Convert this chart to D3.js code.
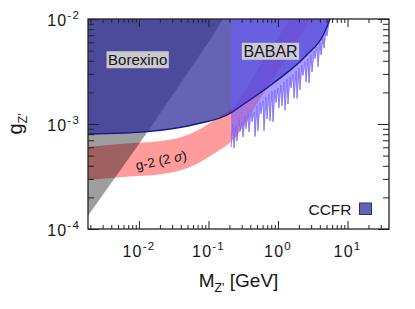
<!DOCTYPE html>
<meta charset="utf-8">
<style>
body { margin: 0; background: #fff; }
text { font-family: "Liberation Sans", Arial, sans-serif; fill: #161616; }
.frame { fill: none; stroke: #222; stroke-width: 1.3px; }
.ticks line { stroke: #222; stroke-width: 1px; }
</style>
<svg width="415" height="309"></svg>
<script src="https://cdn.jsdelivr.net/npm/d3@7"></script>
<script>

var massRange = [0.00185, 39.5],
    couplingRange = [1e-4, 1e-2];

var xLabelPowers = [-2, -1, 0, 1],
    yLabelPowers = [-4, -3, -2];

// CCFR bound (region above is excluded)
var ccfrM = [0.0018, 0.0129, 0.0676, 0.204, 0.284, 0.855, 2.59, 4.49, 5.6, 6.3];
var ccfrG = [7.98e-4, 8.45e-4, 1.0e-3, 1.26e-3, 1.46e-3, 2.44e-3, 4.54e-3, 7.05e-3, 1.0e-2, 1.26e-2];

// Borexino bound (region above-left excluded)
var borexinoM = [0.0018, 0.0139, 0.105, 0.162];
var borexinoG = [1.30e-4, 8.77e-4, 6.31e-3, 1.0e-2];

// g-2 (2 sigma) band
var g2M    = [0.0018, 0.00589, 0.0221, 0.0542, 0.124, 0.240, 0.551, 1.26, 2.7, 3.5];
var g2Low  = [2.93e-4, 3.13e-4, 3.34e-4, 3.89e-4, 5.29e-4, 7.36e-4, 1.73e-3, 4.07e-3, 9.0e-3, 1.2e-2];
var g2High = [6.07e-4, 6.48e-4, 6.91e-4, 8.05e-4, 1.10e-3, 1.52e-3, 3.58e-3, 8.42e-3, 1.86e-2, 2.5e-2];

// BABAR bound (jagged)
var babarM = [0.212, 0.225, 0.233, 0.249, 0.257, 0.275, 0.284, 0.303, 0.314, 0.335, 0.346, 0.370, 0.383, 0.409,
  0.423, 0.452, 0.467, 0.499, 0.515, 0.551, 0.569, 0.608, 0.629, 0.672, 0.695, 0.742, 0.767, 0.820, 0.847, 0.905,
  0.936, 1.00, 1.03, 1.10, 1.14, 1.22, 1.26, 1.35, 1.39, 1.49, 1.54, 1.64, 1.70, 1.82, 1.88, 2.01, 2.07, 2.21,
  2.29, 2.45, 2.53, 2.70, 2.79, 2.98, 3.09, 3.30, 3.41, 3.64, 3.76, 4.02, 4.16, 4.44, 4.59, 4.90, 5.07, 5.42, 5.60];
var babarG = [6.04e-4, 1.00e-3, 5.91e-4, 9.57e-4, 6.89e-4, 1.14e-3, 8.5e-4, 1.05e-3, 7.52e-4, 1.19e-3, 9.0e-4,
  1.22e-3, 8.39e-4, 1.36e-3, 1.05e-3, 1.30e-3, 7.6e-4, 1.48e-3, 8.58e-4, 1.59e-3, 1.25e-3, 1.66e-3, 8.6e-4,
  1.81e-3, 1.12e-3, 1.93e-3, 1.07e-3, 2.06e-3, 1.05e-3, 2.11e-3, 1.6e-3, 2.20e-3, 1.42e-3, 2.35e-3, 1.48e-3,
  2.51e-3, 1.35e-3, 2.68e-3, 1.55e-3, 2.80e-3, 2.2e-3, 2.99e-3, 1.77e-3, 3.20e-3, 1.75e-3, 3.41e-3, 2.11e-3,
  3.65e-3, 2.9e-3, 3.90e-3, 2.51e-3, 4.16e-3, 2.45e-3, 4.54e-3, 3.13e-3, 4.96e-3, 4.2e-3, 5.41e-3, 3.5e-3,
  5.91e-3, 4.54e-3, 6.59e-3, 5.29e-3, 7.86e-3, 6.89e-3, 9.36e-3, 1.0e-2];

var svg = d3.select("svg"),
    pLeft = 88, pRight = 389, pTop = 19, pBottom = 229;

var x = d3.scaleLog().domain(massRange).range([pLeft, pRight]);
var y = d3.scaleLog().domain(couplingRange).range([pBottom, pTop]);

function pairs(ms, gs) { return ms.map(function(m, i) { return [m, gs[i]]; }); }

svg.append("defs").append("clipPath").attr("id", "plot")
  .append("rect").attr("x", pLeft).attr("y", pTop).attr("width", pRight - pLeft).attr("height", pBottom - pTop);

var plot = svg.append("g").attr("clip-path", "url(#plot)");

// g-2 band
plot.append("path")
    .datum(g2M.map(function(m, i) { return [m, g2Low[i], g2High[i]]; }))
    .attr("fill", "rgb(255,155,155)")
    .attr("d", d3.area()
      .x(function(d) { return x(d[0]); })
      .y0(function(d) { return y(d[1]); })
      .y1(function(d) { return y(d[2]); })
      .curve(d3.curveMonotoneX));

// Borexino
plot.append("path")
    .datum(pairs(borexinoM, borexinoG))
    .attr("fill", "#000")
    .attr("fill-opacity", 0.38)
    .attr("d", d3.area()
      .x(function(d) { return x(d[0]); })
      .y0(function(d) { return y(d[1]); })
      .y1(-20));

// CCFR
var ccfr = pairs(ccfrM, ccfrG);
plot.append("path")
    .datum(ccfr)
    .attr("fill", "rgb(47,46,154)")
    .attr("fill-opacity", 0.74)
    .attr("d", d3.area()
      .x(function(d) { return x(d[0]); })
      .y0(function(d) { return y(d[1]); })
      .y1(-20)
      .curve(d3.curveMonotoneX));

// BABAR
var babar = pairs(babarM, babarG);
plot.append("path")
    .datum(babar)
    .attr("fill", "rgb(110,90,255)")
    .attr("fill-opacity", 0.6)
    .attr("d", d3.area()
      .x(function(d) { return x(d[0]); })
      .y0(function(d) { return y(d[1]); })
      .y1(-20));

plot.append("path")
    .datum(babar)
    .attr("fill", "none")
    .attr("stroke", "rgb(120,100,255)")
    .attr("stroke-width", 0.8)
    .attr("d", d3.line()
      .x(function(d) { return x(d[0]); })
      .y(function(d) { return y(d[1]); }));

// CCFR line
plot.append("path")
    .datum(ccfr)
    .attr("fill", "none")
    .attr("stroke", "#15158a")
    .attr("stroke-width", 1.3)
    .attr("d", d3.line()
      .x(function(d) { return x(d[0]); })
      .y(function(d) { return y(d[1]); })
      .curve(d3.curveMonotoneX));

// ticks (inside, mirrored)
function isMajor(v) { var l = Math.log10(v); return Math.abs(l - Math.round(l)) < 1e-6; }
var xAll = x.ticks(), yAll = y.ticks();
var xMaj = xAll.filter(isMajor), xMin = xAll.filter(function(v) { return !isMajor(v); });
var yMaj = yAll.filter(isMajor), yMin = yAll.filter(function(v) { return !isMajor(v); });

function addTicks(axis, tx, ty) {
  var g = svg.append("g").attr("class", "ticks")
      .attr("transform", "translate(" + tx + "," + ty + ")")
      .call(axis.tickFormat("").tickSizeOuter(0));
  g.select(".domain").remove();
}
addTicks(d3.axisBottom(x).tickValues(xMaj).tickSize(-8), 0, pBottom);
addTicks(d3.axisBottom(x).tickValues(xMin).tickSize(-4), 0, pBottom);
addTicks(d3.axisTop(x).tickValues(xMaj).tickSize(-8), 0, pTop);
addTicks(d3.axisTop(x).tickValues(xMin).tickSize(-4), 0, pTop);
addTicks(d3.axisLeft(y).tickValues(yMaj).tickSize(-11), pLeft, 0);
addTicks(d3.axisLeft(y).tickValues(yMin).tickSize(-6), pLeft, 0);
addTicks(d3.axisRight(y).tickValues(yMaj).tickSize(-11), pRight, 0);
addTicks(d3.axisRight(y).tickValues(yMin).tickSize(-6), pRight, 0);

svg.append("rect").attr("class", "frame")
    .attr("x", pLeft).attr("y", pTop).attr("width", pRight - pLeft).attr("height", pBottom - pTop);

// tick labels
function power(sel, p) {
  sel.append("tspan").text("10");
  sel.append("tspan").attr("dy", -7).attr("font-size", 11.5).text(p);
}
xLabelPowers.forEach(function(p) {
  svg.append("text")
      .attr("x", x(Math.pow(10, p)))
      .attr("y", 257)
      .attr("text-anchor", "middle")
      .attr("font-size", 16)
      .attr("letter-spacing", 1.2)
      .call(power, p);
});
yLabelPowers.forEach(function(p) {
  svg.append("text")
      .attr("x", 80)
      .attr("y", y(Math.pow(10, p)) + 7)
      .attr("text-anchor", "end")
      .attr("font-size", 16)
      .attr("letter-spacing", 1.2)
      .call(power, p);
});

// axis titles
var xt = svg.append("text")
    .attr("x", (pLeft + pRight) / 2)
    .attr("y", 287)
    .attr("text-anchor", "middle")
    .attr("font-size", 19);
xt.append("tspan").text("M");
xt.append("tspan").attr("dy", 5).attr("font-size", 12.5).text("Z'");
xt.append("tspan").attr("dy", -5).text(" [GeV]");

var yt = svg.append("text")
    .attr("transform", "translate(22,124) rotate(-90)")
    .attr("text-anchor", "middle")
    .attr("font-size", 20);
yt.append("tspan").text("g");
yt.append("tspan").attr("dy", 5).attr("font-size", 12.5).text("Z'");

// region labels
function boxLabel(label, cx, cy, size) {
  var t = svg.append("text")
      .attr("x", cx).attr("y", cy + size * 0.36)
      .attr("text-anchor", "middle")
      .attr("font-size", size)
      .text(label);
  var b = t.node().getBBox();
  svg.insert("rect", function() { return t.node(); })
      .attr("x", b.x - 1.5).attr("y", cy - 8.5)
      .attr("width", b.width + 3).attr("height", 17)
      .attr("fill", "#d4d4d4").attr("fill-opacity", 0.92);
}
boxLabel("Borexino", 137.7, 59.7, 15);
boxLabel("BABAR", 270.5, 51.3, 16);

var g2 = svg.append("text")
    .attr("transform", "translate(162,165) rotate(-12)")
    .attr("text-anchor", "middle")
    .attr("font-size", 13.5);
g2.append("tspan").text("g-2 (2 ");
g2.append("tspan").attr("font-style", "italic").text("σ");
g2.append("tspan").text(")");

// legend
svg.append("text")
    .attr("x", 351.5).attr("y", 214.5)
    .attr("text-anchor", "end")
    .attr("font-size", 15.5)
    .text("CCFR");
svg.append("rect")
    .attr("x", 359.5).attr("y", 203)
    .attr("width", 12).attr("height", 11.5)
    .attr("fill", "rgb(100,100,180)")
    .attr("stroke", "#2a2a90")
    .attr("stroke-width", 1);

</script>
